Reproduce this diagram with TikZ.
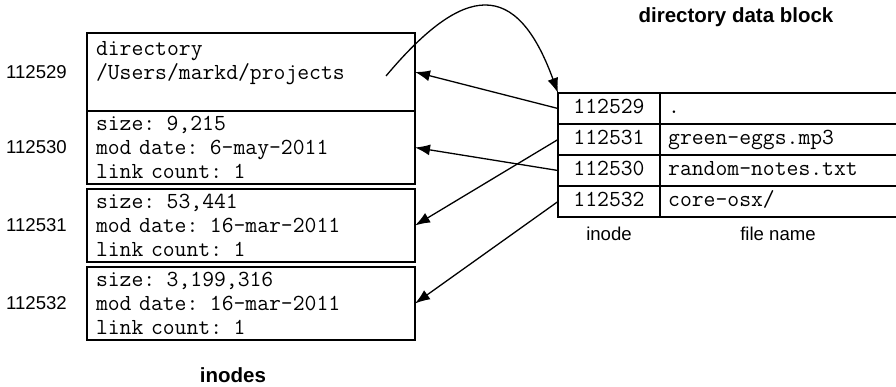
\documentclass[tikz,border=0pt]{standalone}
\usepackage{fontspec}
\setmainfont{Liberation Sans}
\usetikzlibrary{positioning,arrows.meta}
\tikzset{
  inodebox/.style={draw, line width=1.3pt, outer sep=0pt, minimum height=73pt,
    inner xsep=9pt, text width=310pt, align=left,
    font=\ttfamily\fontsize{23}{24}\selectfont},
  cell/.style={draw, line width=1.3pt, outer sep=0pt, minimum width=102pt,
    minimum height=31pt, inner sep=0pt, text height=15pt, text depth=4pt,
    font=\ttfamily\fontsize{23}{24}\selectfont},
  namecell/.style={inner sep=0pt, text height=15pt, text depth=4pt,
    font=\ttfamily\fontsize{23}{24}\selectfont},
  lbl/.style={inner sep=0pt, font=\fontsize{18.6}{20}\selectfont},
  ttl/.style={inner sep=0pt, font=\bfseries\fontsize{20.5}{22}\selectfont},
  link/.style={line width=1.3pt, -{Latex[length=15pt,width=11pt]}}
}
\begin{document}
\begin{tikzpicture}[x=1pt,y=-1pt]
            \useasboundingbox (0,0) rectangle (896,387);
            \coordinate (edge) at (896,0);
            % inodes
            \node[inodebox, minimum height=78pt] (b1) at (251,72)
                {directory\\/Users/markd/projects\\\mbox{}};
            \node[inodebox, below=0pt of b1] (b2)
                {size: 9,215\\mod date: 6-may-2011\\link count: 1};
            \node[inodebox, below=5pt of b2] (b3)
                {size: 53,441\\mod date: 16-mar-2011\\link count: 1};
            \node[inodebox, below=5pt of b3] (b4)
                {size: 3,199,316\\mod date: 16-mar-2011\\link count: 1};
            \node[lbl, left=20pt of b1] (n1) {112529};
            \node[lbl, left=20pt of b2] (n2) {112530};
            \node[lbl, left=20pt of b3] (n3) {112531};
            \node[lbl, left=20pt of b4] (n4) {112532};
            \node[ttl] (ititle) at (233,375) {inodes};
            % directory data block
            \node[cell] (id1) at (609,108.5) {112529};
            \node[cell, below=0pt of id1] (id2) {112531};
            \node[cell, below=0pt of id2] (id3) {112530};
            \node[cell, below=0pt of id3] (id4) {112532};
            \node[namecell, right=8pt of id1] (nm1) {.};
            \node[namecell, right=8pt of id2] (nm2) {green-eggs.mp3};
            \node[namecell, right=8pt of id3] (nm3) {random-notes.txt};
            \node[namecell, right=8pt of id4] (nm4) {core-osx/};
            \foreach \r in {1,...,4}
                {\draw[line width=1.3pt] (id\r.north east) -- (id\r.north east -| edge);}
            \draw[line width=1.3pt] (id4.south east) -- (id4.south east -| edge);
            \node[lbl, below=10pt of id4] (colinode) {inode};
            \node[lbl, anchor=north] (colname) at (colinode.north -| 778,0) {file name};
            \node[ttl] (dtitle) at (736,17) {directory data block};
            % links
            \draw[link] (id1.west) -- (b1.east);
            \draw[link] (id2.west) -- (b3.east);
            \draw[link] (id3.west) -- (b2.east);
            \draw[link] (id4.west) -- (b4.east);
            \coordinate (self) at (386,76);
            \draw[link] (self) to[out=50,in=110,looseness=1.8] (id1.north west);
\end{tikzpicture}
\end{document}
